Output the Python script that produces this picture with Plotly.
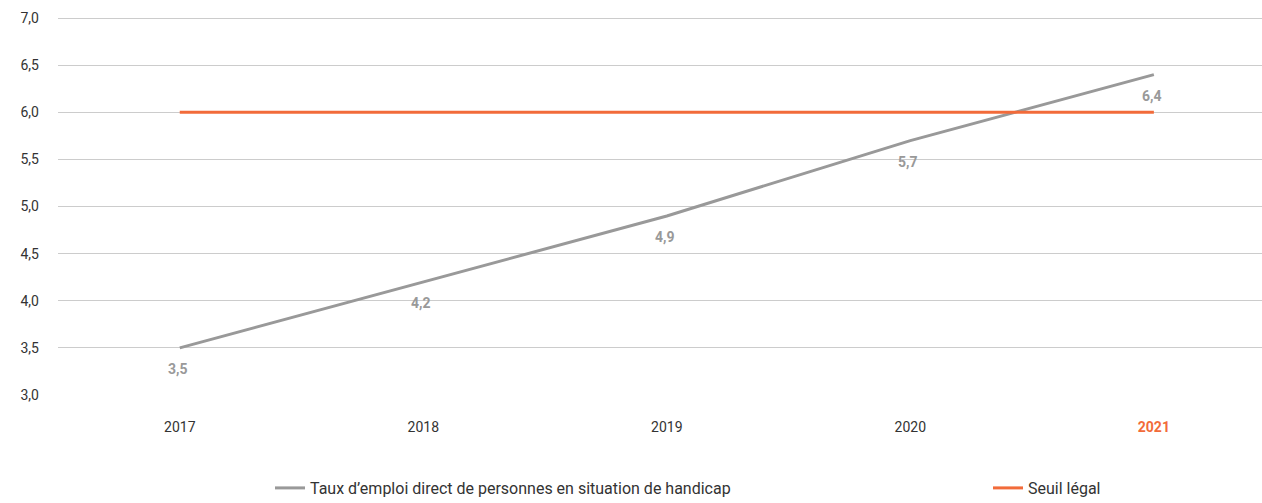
import plotly.graph_objects as go

years = ["2017", "2018", "2019", "2020", "2021"]
taux = [3.5, 4.2, 4.9, 5.7, 6.4]
seuil = [6, 6, 6, 6, 6]
taux_labels = ["3,5", "4,2", "4,9", "5,7", "6,4"]
name_taux = "Taux d’emploi direct de personnes en situation de handicap"
name_seuil = "Seuil légal"

GRAY = "#999999"
ORANGE = "#F26B3A"
FONT = "Roboto, sans-serif"

xi = list(range(len(years)))
fig = go.Figure()
fig.add_trace(go.Scatter(
    x=xi, y=taux, mode="lines", name=name_taux, legend="legend",
    line=dict(color=GRAY, width=3),
))
fig.add_trace(go.Scatter(
    x=xi, y=seuil, mode="lines", name=name_seuil, legend="legend2",
    line=dict(color=ORANGE, width=3),
))
for x, y, t in zip(xi, taux, taux_labels):
    fig.add_annotation(x=x, y=y, text=f"<b>{t}</b>", showarrow=False,
                       yshift=-21, xshift=-2,
                       font=dict(color=GRAY, size=14, family=FONT))

ticktext = years[:-1] + [f"<b><span style='color:{ORANGE}'>{years[-1]}</span></b>"]

leg_common = dict(
    orientation="h", xref="container", yref="container",
    xanchor="left", y=1 - 488 / 503, yanchor="middle",
    font=dict(size=16, color="#333333"), itemwidth=30, bgcolor="rgba(0,0,0,0)",
)

fig.update_layout(
    width=1262, height=503,
    margin=dict(l=58, r=0, t=17, b=108, autoexpand=False),
    paper_bgcolor="white", plot_bgcolor="white",
    separators=", ",
    font=dict(family=FONT, size=14, color="#333333"),
    showlegend=True,
    legend=dict(x=270 / 1262, **leg_common),
    legend2=dict(x=988 / 1262, **leg_common),
)
fig.update_xaxes(
    tickmode="array", tickvals=xi, ticktext=ticktext,
    range=[-0.5, 4.444], showgrid=False, zeroline=False, showline=False,
    ticks="", ticklabelstandoff=22, tickfont=dict(size=14, color="#333333"),
)
fig.update_yaxes(
    range=[3, 7.012], tickvals=[3, 3.5, 4, 4.5, 5, 5.5, 6, 6.5, 7],
    tickformat=".1f", showgrid=True, gridcolor="#CCCCCC",
    gridwidth=1, zeroline=False, showline=False, ticks="",
    tickfont=dict(size=14, color="#333333"), ticklabelstandoff=18,
)

fig.write_html("out.html", config={"displayModeBar": False},
               post_script="document.body.style.margin='0';")
